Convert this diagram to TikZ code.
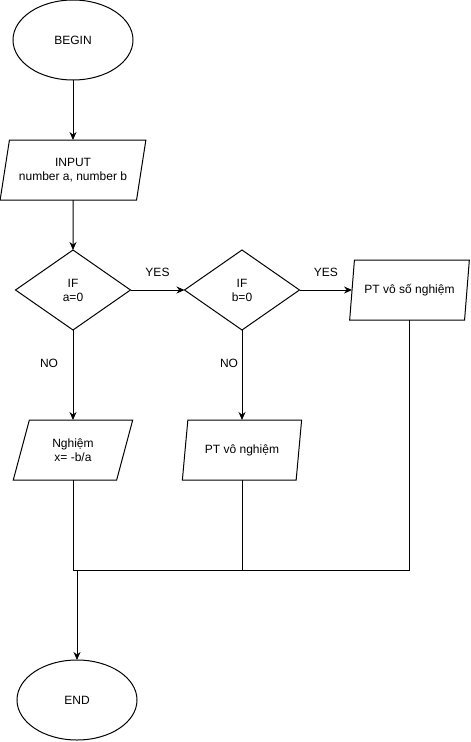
\documentclass[tikz,border=0pt]{standalone}
\usepackage{fontspec}
\setmainfont{Liberation Sans}
\usetikzlibrary{shapes.geometric,positioning,arrows.meta}

\begin{document}
\begin{tikzpicture}[x=1pt,y=-1pt,node distance=100pt,on grid,line width=1pt,
  >={Stealth[length=8pt,width=7pt]},
  every node/.style={font=\fontsize{12}{14}\selectfont},
  term/.style={draw,ellipse,minimum width=120pt,minimum height=80pt,inner sep=0pt,outer sep=0pt},
  io/.style={draw,trapezium,trapezium left angle=71.57,trapezium right angle=108.43,
    trapezium stretches=true,minimum width=120pt,minimum height=60pt,inner sep=0pt,outer sep=0pt,align=center},
  decide/.style={draw,diamond,minimum width=115pt,minimum height=80pt,inner sep=0pt,outer sep=0pt,align=center}]
   \useasboundingbox (0,0) rectangle (471,742);
   \node[term] (begin) at (73,40) {BEGIN};
   \node[io,minimum width=146pt] (input) [below=130pt of begin] {INPUT\\number a, number b};
   \node[decide] (ifa) [below=120pt of input] {IF\\a=0};
   \node[decide] (ifb) [right=169pt of ifa] {IF\\b=0};
   \node[io] (many) [right=167.5pt of ifb] {PT vô số nghiệm};
   \node[io] (root) [below=160pt of ifa] {Nghiệm\\x= -b/a};
   \node[io] (none) [below=160pt of ifb] {PT vô nghiệm};
   \node[term] (end) at (77,700) {END};
   \coordinate (merge) at (73,570);
    \path[->]
    (begin) edge (input)
    (input) edge (ifa)
    (ifa) edge node[yshift=18pt] {YES} (ifb)
          edge node[xshift=-24pt,yshift=12pt] {NO} (root)
    (ifb) edge node[yshift=18pt] {YES} (many)
          edge node[xshift=-13pt,yshift=12pt] {NO} (none);
    \draw (root) -- (merge) -| (many);
    \draw (none) -- (none |- merge);
    \draw[->] (end |- merge) -- (end);
\end{tikzpicture}
\end{document}
